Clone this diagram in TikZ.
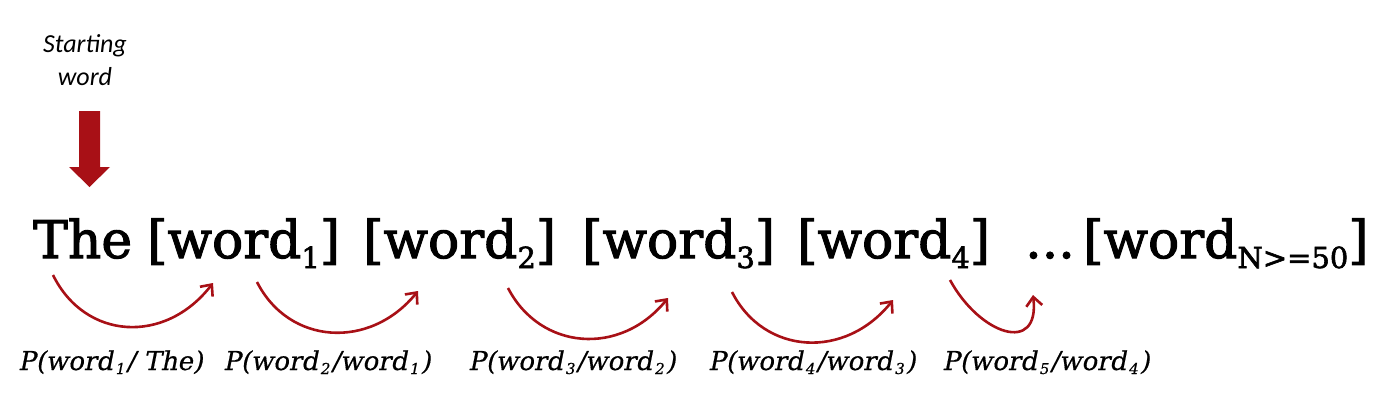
\documentclass[tikz,border=0pt]{standalone}
\usepackage{fontspec}
\setmainfont{DejaVu Serif}
\newfontfamily\tokfont[FakeBold=2]{DejaVu Serif}
\newfontfamily\lblfont[FakeSlant=0.2,FakeBold=0.5]{DejaVu Serif}
\newfontfamily\carl{Carlito}
\usetikzlibrary{arrows.meta}
\definecolor{darkred}{RGB}{168,16,22}
\newcommand\wsub[1]{\raisebox{-10pt}{\fontsize{29}{29}\selectfont #1}}
\newcommand\lsub[1]{\kern2pt\raisebox{-4pt}{\fontsize{15}{15}\selectfont #1}\kern2pt}
\tikzset{
  tok/.style={anchor=base west, inner sep=0pt, font=\tokfont\fontsize{52}{52}\selectfont},
  lbl/.style={anchor=base west, inner sep=0pt, font=\lblfont\fontsize{26}{26}\selectfont},
  trans/.style={draw=darkred, line width=2.6pt, -{Straight Barb[length=9pt,width=16pt,line width=2.6pt]}},
}
\begin{document}
\begin{tikzpicture}[x=1pt,y=-1pt]
\path[use as bounding box] (0,0) rectangle (1400,420);
% heading
\node[inner sep=0pt, align=center, font=\carl\itshape\fontsize{26}{33}\selectfont, anchor=base] (start) at (85,85) {Starting\\word};
% down arrow
\fill[darkred] (79,111) -- (100,111) -- (100,167) -- (110,167) -- (89.5,187) -- (69,167) -- (79,167) -- cycle;
% tokens
\node[tok] (the) at (33,258) {The};
\node[tok] (w1) at (147,258) {[word\wsub{1}]};
\node[tok] (w2) at (363,258) {[word\wsub{2}]};
\node[tok] (w3) at (582,258) {[word\wsub{3}]};
\node[tok] (w4) at (797,258) {[word\wsub{4}]};
\node[tok] (dots) at (1025,258) {...};
\node[tok] (wn) at (1083,258) {[word\wsub{N>=50}]};
% labels
\node[lbl] (p1) at (18,370) {P(word\lsub{1}/ The)};
\node[lbl] (p2) at (223,370) {P(word\lsub{2}/word\lsub{1})};
\node[lbl] (p3) at (468,370) {P(word\lsub{3}/word\lsub{2})};
\node[lbl] (p4) at (708,370) {P(word\lsub{4}/word\lsub{3})};
\node[lbl] (p5) at (942,370) {P(word\lsub{5}/word\lsub{4})};
% arrow end points
\coordinate (s1) at (53,275);  \coordinate (e1) at (213,283);
\coordinate (s2) at (257,282); \coordinate (e2) at (418,291);
\coordinate (s3) at (508,288); \coordinate (e3) at (668,298);
\coordinate (s4) at (732,292); \coordinate (e4) at (893,300);
\coordinate (s5) at (950,280); \coordinate (e5) at (1033,295);
\draw[trans] (s1) .. controls (85,340) and (165,345) .. (e1);
\draw[trans] (s2) .. controls (289,345) and (370,350) .. (e2);
\draw[trans] (s3) .. controls (540,350) and (620,357) .. (e3);
\draw[trans] (s4) .. controls (764,355) and (845,360) .. (e4);
\draw[trans] (s5) .. controls (980,335) and (1040,355) .. (e5);
\end{tikzpicture}
\end{document}
